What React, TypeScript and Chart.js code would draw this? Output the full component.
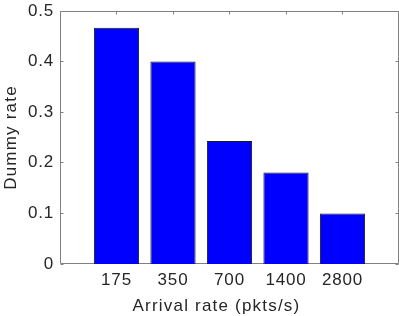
import { useEffect, useRef } from 'react';
import { Chart, registerables } from 'chart.js';

Chart.register(...registerables);

const categories = ['175', '350', '700', '1400', '2800'];
const dummyRate = [0.467, 0.4, 0.243, 0.181, 0.1];
const yTickValues = [0, 0.1, 0.2, 0.3, 0.4, 0.5];
const xTitle = 'Arrival rate (pkts/s)';
const yTitle = 'Dummy rate';

const FONT = "'Liberation Sans', Arial, Helvetica, sans-serif";
const AXIS = '#808080';
const TEXT = '#262626';
const LS_TICKS = '0.8px';
const LS_TITLE = '1.2px';

export default function App() {
  const ref = useRef<HTMLCanvasElement>(null);

  useEffect(() => {
    document.body.style.margin = '0';
    const canvas = ref.current!;

    const spacing = {
      id: 'spacing',
      beforeLayout(c: any) { (c.ctx as any).letterSpacing = LS_TICKS; },
      beforeDraw(c: any) { (c.ctx as any).letterSpacing = LS_TICKS; },
    };

    const frame = {
      id: 'frame',
      beforeDatasetsDraw(c: any) {
        const { ctx, chartArea: a, scales } = c;
        ctx.save();
        ctx.strokeStyle = AXIS;
        ctx.lineWidth = 1;
        ctx.beginPath();
        const L = a.left + 0.5, R = a.right - 0.5, T = a.top + 0.5, B = a.bottom - 0.5;
        ctx.rect(L, T, R - L, B - T);
        const tl = 3;
        scales.y.ticks.forEach((t: any) => {
          const y = Math.floor(scales.y.getPixelForValue(t.value)) + 0.5;
          ctx.moveTo(L, y); ctx.lineTo(L + tl, y);
          ctx.moveTo(R, y); ctx.lineTo(R - tl, y);
        });
        scales.x.ticks.forEach((t: any) => {
          const x = Math.floor(scales.x.getPixelForValue(t.value)) + 0.5;
          ctx.moveTo(x, T); ctx.lineTo(x, T + tl);
          ctx.moveTo(x, B); ctx.lineTo(x, B - tl);
        });
        ctx.stroke();
        ctx.restore();
      },
      afterDraw(c: any) {
        const { ctx, chartArea: a } = c;
        ctx.save();
        (ctx as any).letterSpacing = LS_TITLE;
        ctx.font = `17px ${FONT}`;
        ctx.fillStyle = TEXT;
        ctx.textAlign = 'center';
        ctx.textBaseline = 'alphabetic';
        ctx.fillText(xTitle, (a.left + a.right) / 2 - 13, a.bottom + 46.5);
        ctx.translate(16, (a.top + a.bottom) / 2);
        ctx.rotate(-Math.PI / 2);
        ctx.fillText(yTitle, 0, 0);
        ctx.restore();
      },
    };

    const noPad = (s: any) => {
      s.paddingTop = 0;
      s.paddingBottom = 0;
      s.paddingLeft = 0;
      s.paddingRight = 0;
    };

    const chart = new Chart(canvas, {
      type: 'bar',
      data: {
        datasets: [
          {
            data: categories.map((_, i) => ({ x: i + 1, y: dummyRate[i] })),
            backgroundColor: '#0000ff',
            borderColor: '#1a1a1a',
            borderWidth: 1,
            barPercentage: 0.8,
            categoryPercentage: 1,
          } as any,
        ],
      },
      options: {
        responsive: false,
        animation: false,
        devicePixelRatio: 1,
        layout: { padding: { top: 11, left: 0, right: 0, bottom: 0 } },
        plugins: { legend: { display: false }, tooltip: { enabled: false } },
        scales: {
          x: {
            type: 'linear',
            min: 0,
            max: 6,
            offset: false,
            grid: { display: false, drawTicks: false },
            border: { display: false },
            afterBuildTicks(s: any) { s.ticks = categories.map((_, i) => ({ value: i + 1 })); },
            afterFit(s: any) { s.height = 52; noPad(s); },
            ticks: {
              autoSkip: false,
              maxRotation: 0,
              padding: 6,
              color: TEXT,
              font: { family: FONT, size: 17 },
              callback: (v: any) => categories[Number(v) - 1] ?? '',
            },
          },
          y: {
            min: 0,
            max: 0.5,
            grid: { display: false, drawTicks: false },
            border: { display: false },
            afterBuildTicks(s: any) { s.ticks = yTickValues.map((v) => ({ value: v })); },
            afterFit(s: any) { s.width = 60; noPad(s); },
            ticks: {
              padding: 6,
              color: TEXT,
              font: { family: FONT, size: 17 },
              callback: (v: any) => String(Number(Number(v).toFixed(1))),
            },
          },
        },
      } as any,
      plugins: [spacing, frame],
    });

    return () => chart.destroy();
  }, []);

  return <canvas ref={ref} width={399} height={316} style={{ display: 'block' }} />;
}
